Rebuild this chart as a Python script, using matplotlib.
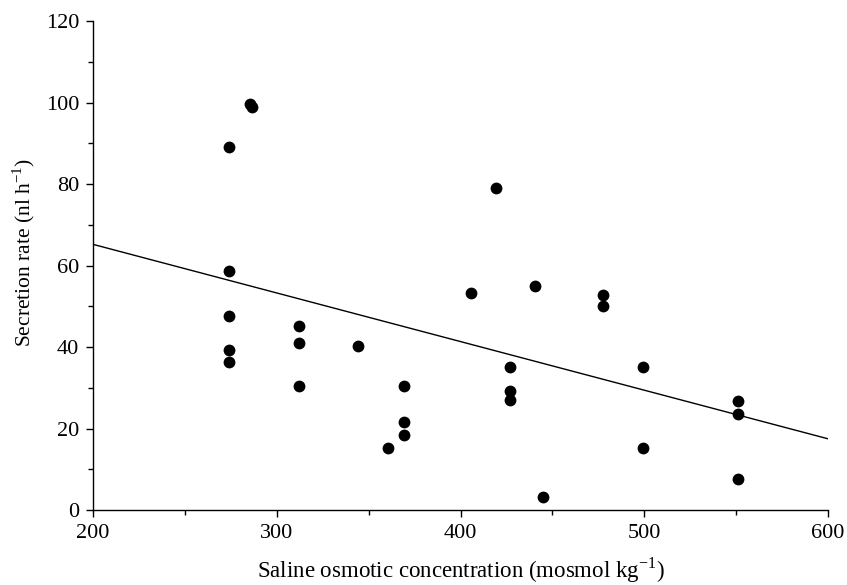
"""
Secretion rate vs saline osmotic concentration scatter with fitted line.
"""

import matplotlib
matplotlib.use("Agg")
import matplotlib.pyplot as plt
from matplotlib.ticker import MultipleLocator

plt.rcParams["font.family"] = ["Liberation Serif", "DejaVu Serif"]
plt.rcParams["mathtext.fontset"] = "custom"
plt.rcParams["mathtext.rm"] = "Liberation Serif"

# Data
osmolality = [274, 274, 274, 274, 274, 285.5, 286.5,
              312, 312, 312, 344, 360.5, 369, 369, 369,
              405.5, 419, 440.5, 427, 427, 427, 445,
              477.5, 477.5, 499.5, 499.5, 551, 551, 551]
secretion = [89.0, 58.7, 47.7, 39.4, 36.3, 99.6, 99.0,
             45.1, 40.9, 30.5, 40.2, 15.3, 30.4, 21.7, 18.5,
             53.2, 79.0, 54.9, 35.1, 29.3, 27.1, 3.1,
             52.8, 50.2, 35.1, 15.3, 26.8, 23.7, 7.7]

fit_x = [200, 600]
fit_y = [65.2, 17.5]

fig = plt.figure(figsize=(8.47, 5.85), dpi=100)
ax = fig.add_axes([0.110, 0.128, 0.8676, 0.836])

ax.plot(fit_x, fit_y, color="black", linewidth=1.0, zorder=2)
ax.plot(osmolality, secretion, "o", color="black", markersize=8.5,
        markeredgewidth=0, zorder=3)

ax.set_xlim(200, 600)
ax.set_ylim(0, 120)

ax.xaxis.set_major_locator(MultipleLocator(100))
ax.xaxis.set_minor_locator(MultipleLocator(50))
ax.yaxis.set_major_locator(MultipleLocator(20))
ax.yaxis.set_minor_locator(MultipleLocator(10))

for side in ["top", "right"]:
    ax.spines[side].set_visible(False)
for side in ["left", "bottom"]:
    ax.spines[side].set_linewidth(1.0)

ax.tick_params(which="major", direction="out", length=5, width=1.0,
               labelsize=16, pad=5)
ax.tick_params(which="minor", direction="out", length=3.5, width=1.0)

ax.set_xlabel(r"Saline osmotic concentration (mosmol kg$^{-1}$)",
              fontsize=16.5, va="center")
ax.xaxis.set_label_coords(0.5, -0.1227)
ax.set_ylabel(r"Secretion rate (nl h$^{-1}$)", fontsize=15.5,
              va="center", ha="center")
ax.yaxis.set_label_coords(-0.0952, 0.528)

fig.savefig("out.png", dpi=100)
